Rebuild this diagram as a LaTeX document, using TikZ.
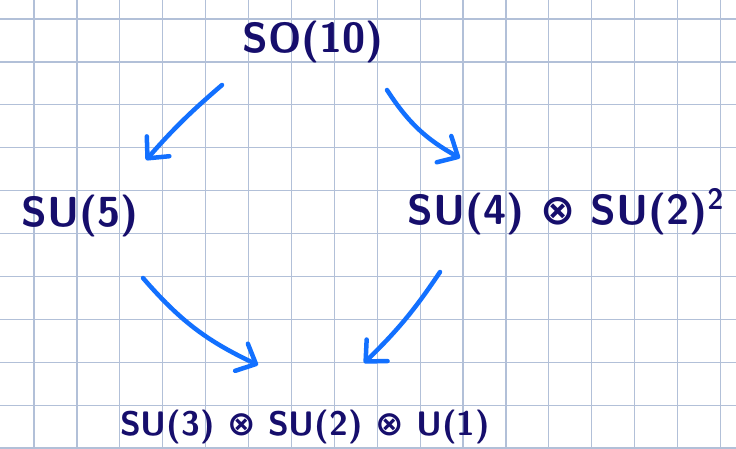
\documentclass[tikz,border=0pt]{standalone}
\usepackage{fontspec}
\usepackage{tikz}
\usetikzlibrary{arrows.meta,calc,positioning}
\newfontfamily\symbfont{DejaVu Sans}
\definecolor{gridgrey}{RGB}{178,192,216}
\definecolor{inkblue}{RGB}{22,14,108}
\definecolor{penblue}{RGB}{18,112,255}
\newcommand{\tensor}{{\symbfont\bfseries ⊗}}
\tikzset{
  gridline/.style={gridgrey,line width=1.2pt},
  flow/.style={penblue,line width=4.5pt,line cap=round,
               -{Straight Barb[length=16pt,width=30pt,line width=4.5pt,round]}},
  group/.style={text=inkblue,inner sep=0pt,font=\fontsize{42}{46}\selectfont\sffamily\bfseries},
  groupsmall/.style={group,font=\fontsize{34}{38}\selectfont\sffamily\bfseries},
}

\begin{document}
\begin{tikzpicture}[x=1pt,y=-1pt]
  \path[use as bounding box] (0,0) rectangle (736,448);
  \fill[white] (0,0) rectangle (736,448);
  \foreach \k in {0,...,16}{
    \draw[gridline] (34+42.9*\k,0) -- (34+42.9*\k,448);
  }
  \foreach \k in {0,...,10}{
    \draw[gridline] (0,19+42.9*\k) -- (736,19+42.9*\k);
  }

  \node[group] (so10) at (313,42) {SO(10)};
  \node[group] (su5) at (80,216) {SU(5)};
  \node[group] (ps) at (566,212) {SU(4) \tensor\ SU(2)\raisebox{6pt}{\textsuperscript{2}}};
  \node[groupsmall] (sm) at (305,427) {SU(3) \tensor\ SU(2) \tensor\ U(1)};

  \draw[flow] ($(so10)+(-91,43)$) to[bend right=4] ($(su5)+(66,-56)$);
  \draw[flow] ($(so10)+(74,48)$) to[bend right=14] ($(ps)+(-106,-54)$);
  \draw[flow] ($(su5)+(63,62)$) to[bend right=12] ($(sm)+(-47,-62)$);
  \draw[flow] ($(ps)+(-126,60)$) to[bend left=6] ($(sm)+(59,-64)$);
\end{tikzpicture}
\end{document}
